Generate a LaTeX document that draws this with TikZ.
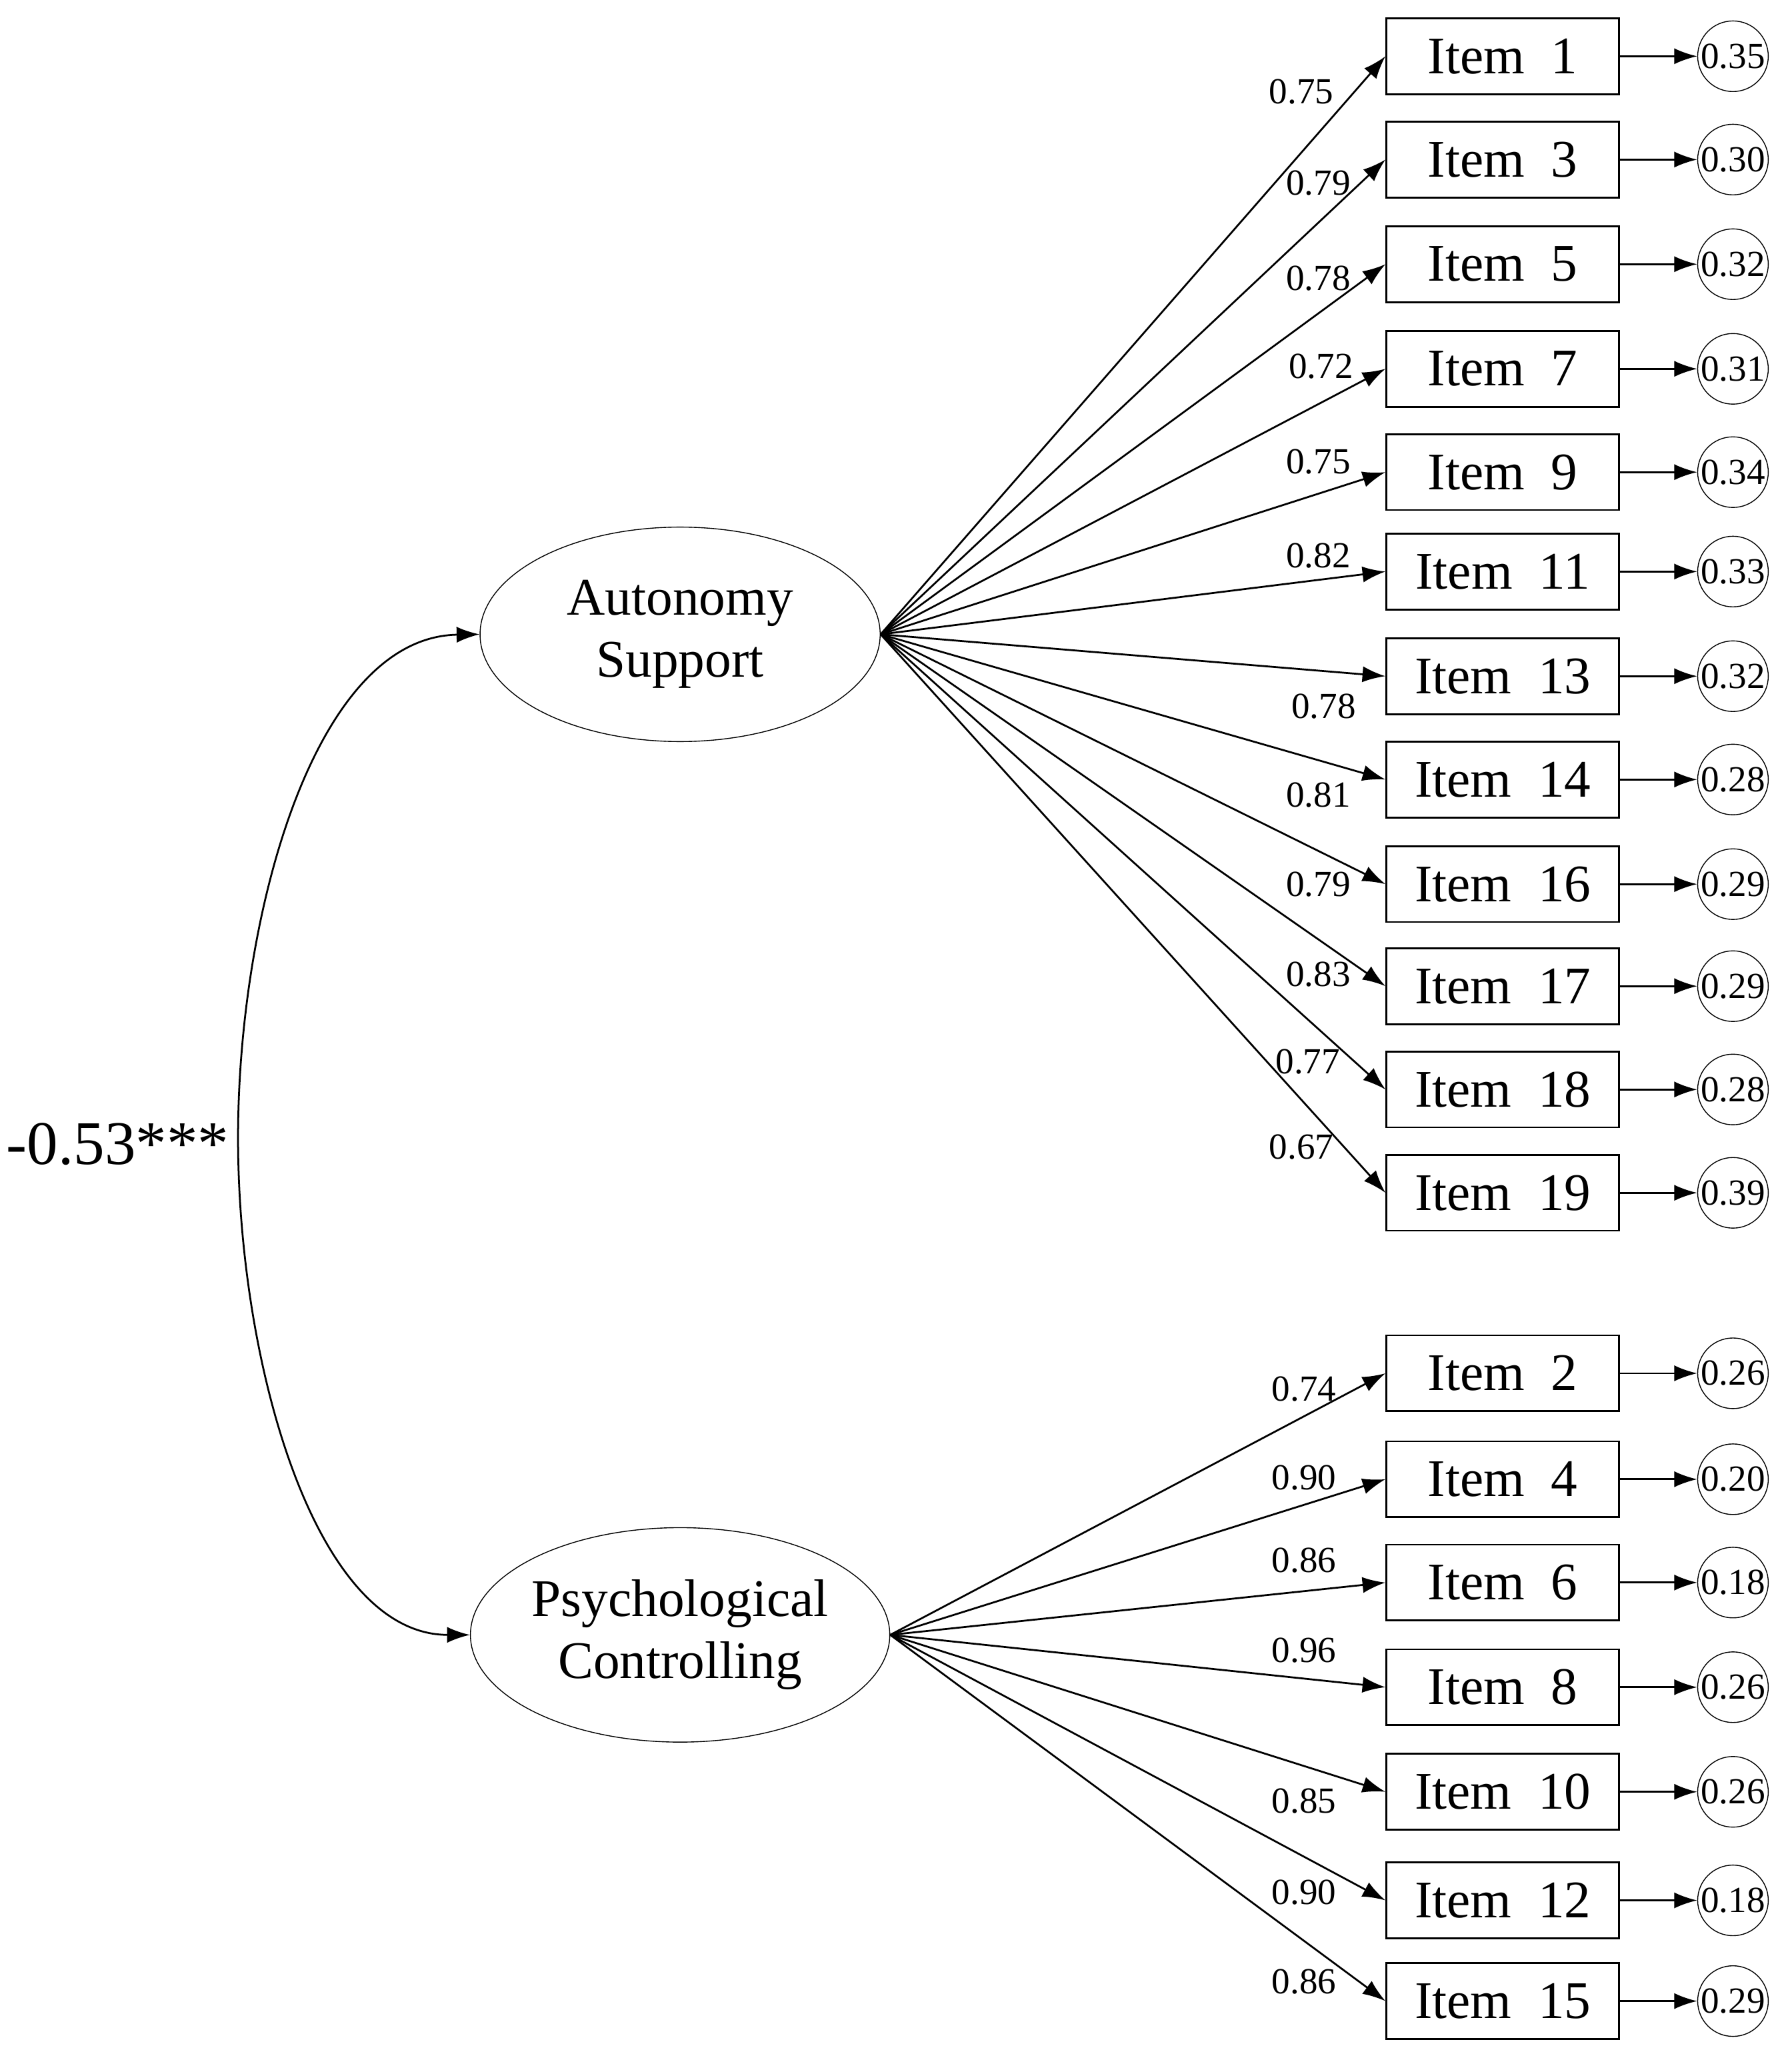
\documentclass[tikz,border=0pt]{standalone}
\usepackage{fontspec}
\setmainfont{Liberation Serif}
\usetikzlibrary{shapes.geometric,arrows.meta}
\begin{document}
\begin{tikzpicture}[x=0.02cm,y=-0.02cm,
 box/.style={draw,thick,minimum width=3.56cm,minimum height=1.16cm,inner sep=0,font=\fontsize{23}{25}\selectfont},
 err/.style={draw,circle,minimum size=1.08cm,inner sep=0,font=\fontsize{16}{17}\selectfont},
 lat/.style={draw,ellipse,minimum width=6.12cm,minimum height=3.28cm,inner sep=0,align=center,font=\fontsize{23}{27}\selectfont},
 arr/.style={-{Latex[length=10pt,width=7pt]},line width=0.8pt},
 lab/.style={font=\fontsize{16}{17}\selectfont}]
\useasboundingbox (0,0) rectangle (1370,1572);
\node[lat] (A) at (520,485) {Autonomy\\Support};
\node[lat] (P) at (520,1250) {Psychological\\Controlling};
\foreach \n/\y/\e/\l/\lx/\ly in {1/43/0.35/0.75/995/70, 3/122/0.30/0.79/1008/140, 5/202/0.32/0.78/1008/213, 7/282/0.31/0.72/1010/280, 9/361/0.34/0.75/1008/353, 11/437/0.33/0.82/1008/425, 13/517/0.32/0.78/1012/540, 14/596/0.28/0.81/1008/608, 16/676/0.29/0.79/1008/676, 17/754/0.29/0.83/1008/745, 18/833/0.28/0.77/1000/812, 19/912/0.39/0.67/995/877}{
 \node[box] (i\n) at (1149,\y) {Item\ \ \n};
 \node[err] (e\n) at (1325,\y) {\e};
 \draw[arr] (A.east) -- (i\n.west);
 \draw[arr] (i\n.east) -- (e\n.west);
 \node[lab] (l\n) at (\lx,\ly) {\l};
}
\foreach \n/\y/\e/\l/\lx/\ly in {2/1050/0.26/0.74/997/1062, 4/1131/0.20/0.90/997/1130, 6/1210/0.18/0.86/997/1193, 8/1290/0.26/0.96/997/1262, 10/1370/0.26/0.85/997/1377, 12/1453/0.18/0.90/997/1447, 15/1530/0.29/0.86/997/1515}{
 \node[box] (i\n) at (1149,\y) {Item\ \ \n};
 \node[err] (e\n) at (1325,\y) {\e};
 \draw[arr] (P.east) -- (i\n.west);
 \draw[arr] (i\n.east) -- (e\n.west);
 \node[lab] (l\n) at (\lx,\ly) {\l};
}
\draw[arr,{Latex[length=10pt,width=7pt]}-{Latex[length=10pt,width=7pt]}] (A.west) .. controls (240,487) and (182,700) .. (182,870) .. controls (182,1040) and (240,1250) .. (P.west);
\node[font=\fontsize{27}{29}\selectfont] (r) at (90,875) {-0.53***};
\end{tikzpicture}
\end{document}
